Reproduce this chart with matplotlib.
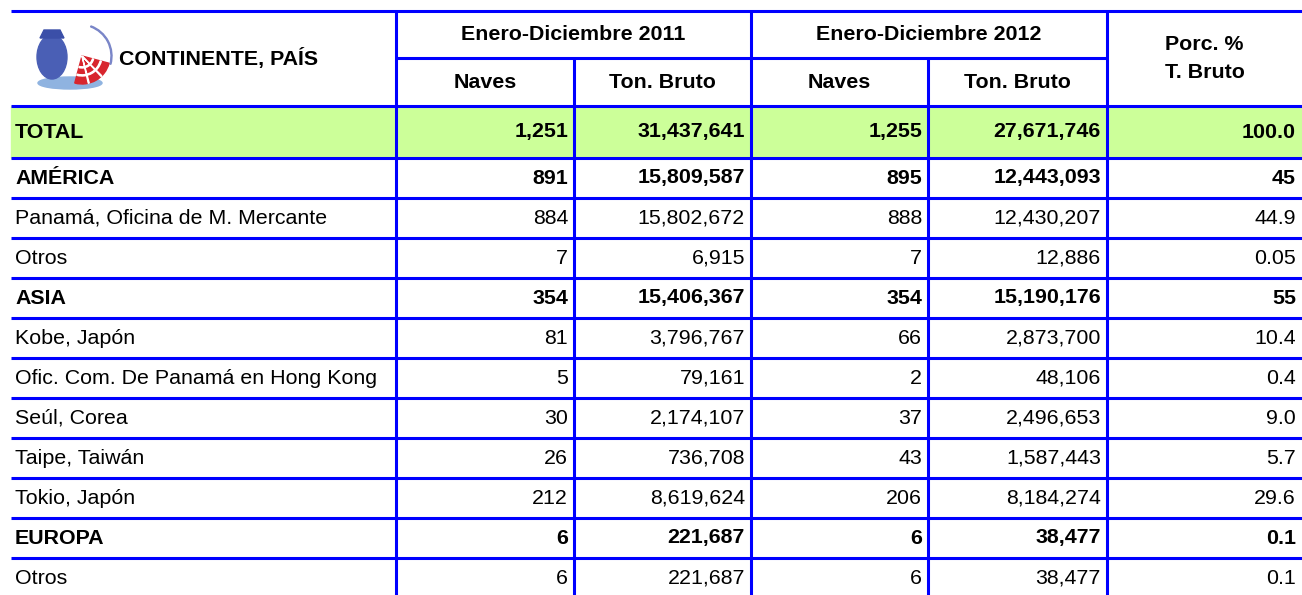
import matplotlib.pyplot as plt
from matplotlib.patches import Rectangle, Wedge, Polygon, Ellipse

plt.rcParams['font.family'] = ['Liberation Sans', 'DejaVu Sans']

# --- datos de la tabla ---
paises = ['TOTAL', 'AMÉRICA', 'Panamá, Oficina de M. Mercante', 'Otros', 'ASIA',
          'Kobe, Japón', 'Ofic. Com. De Panamá en Hong Kong', 'Seúl, Corea',
          'Taipe, Taiwán', 'Tokio, Japón', 'EUROPA', 'Otros']
naves_2011 = [1251, 891, 884, 7, 354, 81, 5, 30, 26, 212, 6, 6]
ton_2011 = [31437641, 15809587, 15802672, 6915, 15406367, 3796767, 79161,
            2174107, 736708, 8619624, 221687, 221687]
naves_2012 = [1255, 895, 888, 7, 354, 66, 2, 37, 43, 206, 6, 6]
ton_2012 = [27671746, 12443093, 12430207, 12886, 15190176, 2873700, 48106,
            2496653, 1587443, 8184274, 38477, 38477]
porc = ['100.0', '45', '44.9', '0.05', '55', '10.4', '0.4', '9.0', '5.7', '29.6', '0.1', '0.1']
negrita = [True, True, False, False, True, False, False, False, False, False, True, False]

# --- layout (pixeles) ---
W, H = 1302, 595
cols = [11, 396, 574, 751, 928, 1107, 1302]
y_top, y_mid, y_head = 11, 58, 106
y_total = 158
row_h = 40
azul = '#0000FF'
verde = '#CCFF99'
fs = 15.4
lw = 2.2

fig = plt.figure(figsize=(W / 100, H / 100), dpi=100)
ax = fig.add_axes([0, 0, 1, 1])
ax.set_xlim(0, W)
ax.set_ylim(H, 0)
ax.axis('off')

# limites de filas
bounds = [y_head, y_total] + [y_total + row_h * (i + 1) for i in range(len(paises) - 1)]

# fondo verde fila TOTAL
ax.add_patch(Rectangle((cols[0], y_head), W - cols[0], y_total - y_head, color=verde, zorder=0))

# lineas horizontales
for y in [y_top] + bounds[:-1]:
    ax.plot([cols[0], W], [y, y], color=azul, lw=lw, solid_capstyle='butt')
ax.plot([cols[1], cols[5]], [y_mid, y_mid], color=azul, lw=lw, solid_capstyle='butt')

# lineas verticales
for x in [cols[1], cols[3], cols[5]]:
    ax.plot([x, x], [y_top, H], color=azul, lw=lw, solid_capstyle='butt')
for x in [cols[2], cols[4]]:
    ax.plot([x, x], [y_mid, H], color=azul, lw=lw, solid_capstyle='butt')

# encabezado
ax.text(119, 58, 'CONTINENTE, PAÍS', fontsize=fs, fontweight='bold', va='center', ha='left')
ax.text((cols[1] + cols[3]) / 2, 34, 'Enero-Diciembre 2011', fontsize=fs, fontweight='bold', ha='center', va='center')
ax.text((cols[3] + cols[5]) / 2, 34, 'Enero-Diciembre 2012', fontsize=fs, fontweight='bold', ha='center', va='center')
for i, lab in enumerate(['Naves', 'Ton. Bruto', 'Naves', 'Ton. Bruto']):
    ax.text((cols[i + 1] + cols[i + 2]) / 2, 83, lab, fontsize=fs, fontweight='bold', ha='center', va='center')
ax.text((cols[5] + cols[6]) / 2, 44, 'Porc. %', fontsize=fs, fontweight='bold', ha='center', va='center')
ax.text((cols[5] + cols[6]) / 2, 72, 'T. Bruto', fontsize=fs, fontweight='bold', ha='center', va='center')

# logo simplificado
ax.add_patch(Ellipse((70, 83), 64, 12, color='#8fb3e0', zorder=1))
ax.add_patch(Ellipse((52, 57), 30, 44, color='#4a5fb5', zorder=2))
ax.add_patch(Polygon([[40, 38], [64, 38], [60, 30], [44, 30]], closed=True, color='#3b4fa8', zorder=2))
ax.add_patch(Wedge((82, 56), 28, 15, 105, color='#d8262e', zorder=2))
for r in [12, 20]:
    ax.add_patch(Wedge((82, 56), r, 15, 105, width=1.2, color='white', zorder=3))
for a0 in [45, 75]:
    ax.add_patch(Wedge((82, 56), 28, a0, a0 + 2, color='white', zorder=3))
ax.add_patch(Wedge((80, 56), 32, -70, 15, width=1.0, color='#7a86c8', zorder=1))

# filas de datos
for i, nombre in enumerate(paises):
    yc = (bounds[i] + bounds[i + 1]) / 2
    w = 'bold' if negrita[i] else 'normal'
    ax.text(15, yc, nombre, fontsize=fs, fontweight=w, ha='left', va='center')
    vals = [f'{naves_2011[i]:,}', f'{ton_2011[i]:,}', f'{naves_2012[i]:,}', f'{ton_2012[i]:,}', porc[i]]
    for j, v in enumerate(vals):
        ax.text(cols[j + 2] - 6, yc, v, fontsize=fs, fontweight=w, ha='right', va='center')

plt.savefig('out.png', dpi=100)
